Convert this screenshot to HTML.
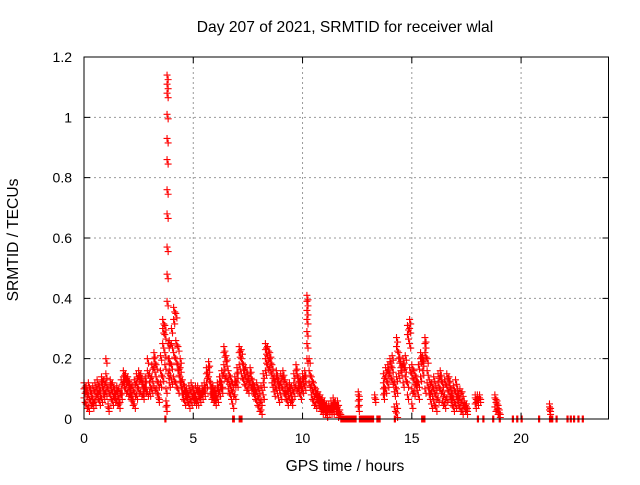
<!DOCTYPE html>
<html><head><meta charset="utf-8"><style>
body{margin:0;background:#fff;}
svg text{font-family:"Liberation Sans",sans-serif;font-size:14px;fill:#000;}
svg text.big{font-size:15.6px;}
</style></head><body>
<svg id="chart" width="640" height="480" viewBox="0 0 640 480" xmlns="http://www.w3.org/2000/svg">
<rect width="640" height="480" fill="#fff"/>
<g id="grid"></g>
<g id="marks"></g>
<rect x="84" y="57" width="524.5" height="362" fill="none" stroke="#000" stroke-width="1"/>
<g id="ticks"></g>
<text class="big" x="345" y="32" text-anchor="middle">Day 207 of 2021, SRMTID for receiver wlal</text>
<text class="big" x="345" y="471" text-anchor="middle">GPS time / hours</text>
<text class="big" x="18" y="240" text-anchor="middle" transform="rotate(-90 18 240)">SRMTID / TECUs</text>
</svg>
<script>
const xTicks=[0,5,10,15,20];
const yTicks=[0,0.2,0.4,0.6,0.8,1,1.2];
const yTickLabels=["0","0.2","0.4","0.6","0.8","1","1.2"];
const hours=[0.0,0.1,0.2,0.3,0.4,0.5,0.6,0.7,0.8,0.9,1.0,1.1,1.2,1.3,1.4,1.5,1.6,1.7,1.8,1.9,2.0,2.1,2.2,2.3,2.4,2.5,2.6,2.7,2.8,2.9,3.0,3.1,3.2,3.3,3.4,3.5,3.6,3.7,3.75,3.8,3.85,3.9,4.0,4.1,4.2,4.3,4.4,4.5,4.6,4.7,4.8,4.9,5.0,5.1,5.2,5.3,5.4,5.5,5.6,5.7,5.8,5.9,6.0,6.1,6.2,6.3,6.4,6.5,6.6,6.7,6.8,6.9,7.0,7.1,7.2,7.3,7.4,7.5,7.6,7.7,7.8,7.9,8.0,8.1,8.2,8.3,8.4,8.5,8.6,8.7,8.8,8.9,9.0,9.1,9.2,9.3,9.4,9.5,9.6,9.7,9.8,9.9,10.0,10.1,10.2,10.3,10.4,10.5,10.6,10.7,10.8,10.9,11.0,11.1,11.2,11.3,11.4,11.5,11.6,11.7,12.55,13.3,13.7,13.8,13.9,14.0,14.1,14.2,14.3,14.4,14.5,14.6,14.7,14.8,14.9,15.0,15.1,15.2,15.3,15.4,15.5,15.6,15.7,15.8,15.9,16.0,16.1,16.2,16.3,16.4,16.5,16.6,16.7,16.8,16.9,17.0,17.1,17.2,17.3,17.4,17.5,17.9,18.0,18.1,18.8,18.9,19.0,21.3];
const values=[[.07,.10,.12],[.05,.09,.11],[.04,.08,.12],[.06,.09,.10],[.07,.11,.05],[.09,.12,.06],[.08,.13,.10],[.06,.09,.11],[.07,.12,.14],[.08,.10,.13],[.09,.20,.15,.12],[.05,.04,.10],[.08,.11,.13],[.06,.09,.12],[.08,.10,.07],[.09,.11,.06],[.05,.07,.10],[.10,.13,.08],[.14,.16,.12],[.13,.15,.10],[.09,.12,.14],[.10,.12,.08],[.06,.08,.11],[.05,.09,.13],[.08,.12,.15],[.10,.14,.16],[.09,.13,.15],[.08,.12,.10],[.10,.14,.12],[.09,.16,.20],[.09,.12,.15],[.10,.14,.18],[.11,.17,.20,.22],[.10,.14,.18],[.08,.12,.07],[.12,.16,.21],[.14,.25,.30,.33],[.18,.22,.28,.31,0],[.10,.06,.04],[.39,.48,.57,.68,.76,.86,.93,1.01,1.08,1.11,1.14],[.25,.20,.15],[.12,.16,.26,.20],[.13,.18,.25,.30],[.14,.22,.33,.37],[.12,.20,.26,.35],[.10,.16,.24,.18],[.12,.17,.20,.14],[.08,.10,.13],[.06,.09,.11],[.07,.10,.08],[.05,.08,.11],[.06,.09,.12],[.07,.10,.08],[.08,.11,.06],[.06,.09,.11],[.07,.10,.08],[.08,.11,.09],[.09,.12,.10],[.12,.15,.17],[.14,.17,.19],[.10,.12,.08],[.07,.09,.11],[.06,.08,.10],[.07,.10,.12],[.09,.12,.14],[.12,.16,.10],[.15,.18,.22,.24],[.14,.19,.21],[.10,.13,.16],[.08,.11,.14],[.05,.09,.12,0],[.08,.12,.14],[.12,.15,.17],[.18,.22,.24,0],[.15,.20,.23],[.13,.16,.18],[.11,.14,.17],[.10,.13,.15],[.12,.15,.17],[.10,.13,.11],[.08,.11,.09],[.06,.09,.12],[.04,.07,.10],[.03,.06,.11],[.08,.12,.15],[.16,.20,.23,.25],[.18,.21,.24],[.17,.20,.22],[.12,.15,.18],[.09,.12,.14],[.10,.14,.16],[.07,.11,.13],[.08,.12,.15],[.10,.14,.16],[.08,.10,.13],[.06,.09,.11],[.07,.10,.12],[.06,.08,.11],[.09,.12,.15],[.11,.16,.18],[.10,.14,.12],[.08,.11,.13],[.10,.13,.15],[.11,.14,.16],[.20,.25,.29,.33,.36,.39,.41],[.12,.16,.20],[.08,.11,.14],[.06,.09,.12],[.05,.08,.10],[.06,.09,.07],[.04,.06,.08],[.03,.05,.07],[.03,.04,.06],[.02,.04,.05],[.03,.05,.04],[.04,.06,.03],[.03,.05,.07],[.04,.06,.05],[.02,.04,.06],[.01,.03,.02],[.04,.06,.08,.09],[.07,.08],[.08,.10,.12,.15],[.10,.14,.17],[.12,.16,.18],[.15,.19,.20],[.13,.17,.21],[.09,.04,.12],[.02,.05,.10,.14,.24,.27],[.15,.20,.22],[.16,.19,.17],[.12,.18,.20],[.14,.17,.21],[.08,.12,.28,.31],[.25,.30,.33,.17],[.10,.15,.18,.05],[.09,.13,.16],[.11,.14,.12],[.08,.12,.18],[.20,.22,.14],[.16,.19,.21],[.10,.22,.25,.27],[.12,.16,.20],[.08,.10,.13],[.05,.09,.12],[.06,.10,.14],[.04,.08,.11],[.07,.12,.15],[.10,.14,.16],[.06,.09,.12],[.05,.08,.13],[.07,.11,.15],[.09,.12,.14],[.06,.10,.08],[.04,.07,.11],[.05,.09,.13],[.06,.10,.08],[.04,.07,.10],[.03,.06,.09],[.04,.06,.05],[.03,.05,.04],[.05,.07,.08],[.06,.08,.07],[.07,.08],[.04,.07,.08],[.03,.05,.06],[.02,.03],[.03,.04,.05]];
const zeroHours=[3.7,6.83,7.18,11.8,11.9,12.0,12.1,12.2,12.3,12.4,12.6,12.7,12.8,12.9,13.0,13.1,13.2,13.4,13.5,14.2,15.45,15.55,18.0,18.25,18.7,19.0,19.6,19.8,20.0,20.8,21.3,21.4,21.6,22.1,22.25,22.4,22.6,22.8];
const X=h=>84+h*(524.5/24);
const Y=v=>419-v*(362/1.2);
const NS="http://www.w3.org/2000/svg";
const grid=document.getElementById('grid'),ticks=document.getElementById('ticks'),marks=document.getElementById('marks');
function mk(tag,attrs,parent){const e=document.createElementNS(NS,tag);for(const k in attrs)e.setAttribute(k,attrs[k]);parent.appendChild(e);return e;}
xTicks.forEach(t=>{
  const x=X(t);
  if(t>0){const g=mk('line',{x1:x,y1:57,x2:x,y2:419,stroke:'#999','stroke-dasharray':'2,3'},grid);
  
  }
  const a=mk('path',{d:`M${x} 419v-6M${x} 57v6`,stroke:'#000'},ticks);
  
  
  const l=mk('text',{x:x,y:443,'text-anchor':'middle'},ticks);l.textContent=t;
  
  
});
yTicks.forEach((t,i)=>{
  const y=Y(t);
  if(t>0&&t<1.2){const g=mk('line',{x1:84,y1:y,x2:608.5,y2:y,stroke:'#999','stroke-dasharray':'2,3'},grid);
  
  }
  const a=mk('path',{d:`M84 ${y}h6M608.5 ${y}h-6`,stroke:'#000'},ticks);
  
  
  const l=mk('text',{x:72,y:y+5,'text-anchor':'end'},ticks);l.textContent=yTickLabels[i];
  
  
});
let d='';
const plus=(h,v)=>{const x=X(h),y=Y(v);d+=`M${x-3.5} ${y}h7M${x} ${y-3.5}v7`;};
hours.forEach((h,i)=>values[i].forEach(v=>{plus(h,v);plus(h+0.05,Math.max(0,v-0.015));}));
zeroHours.forEach(h=>{plus(h,0);plus(h+0.05,0);});
const p=mk('path',{d:d,stroke:'#f00','stroke-width':1.1,fill:'none'},marks);


</script>
</body></html>
